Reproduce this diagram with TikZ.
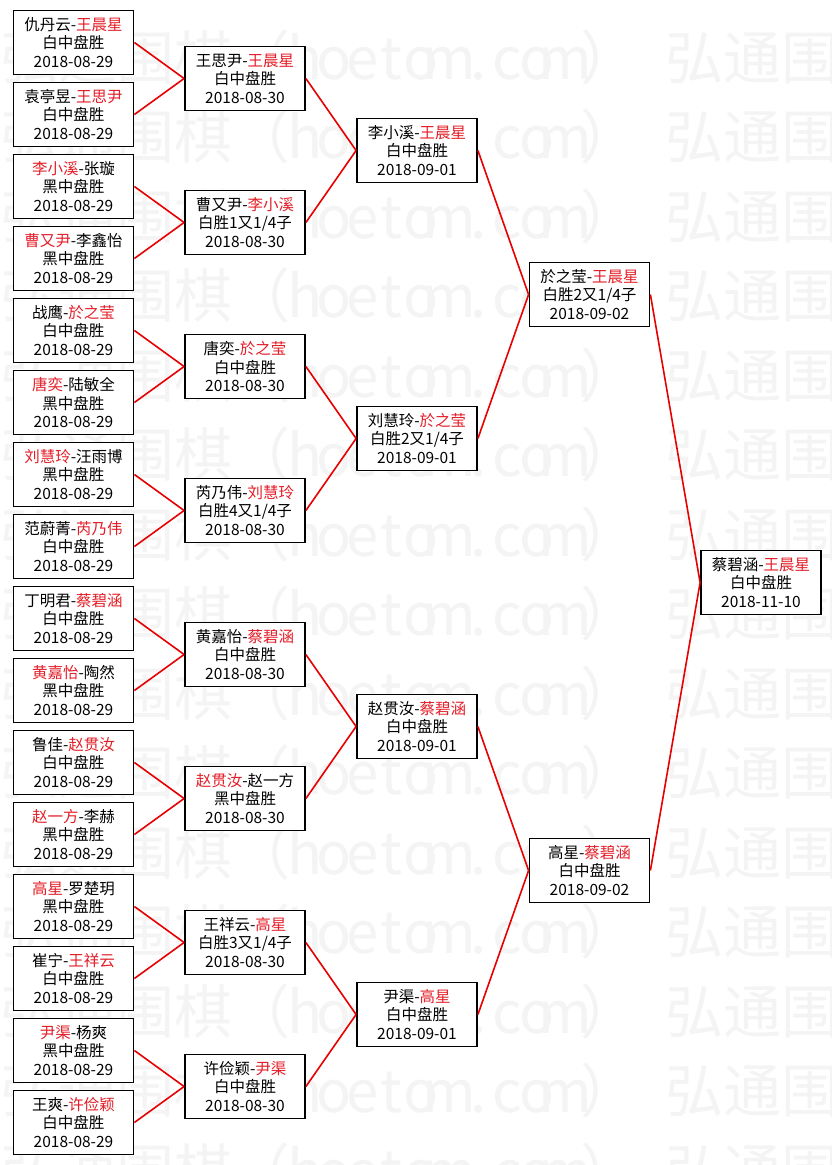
\documentclass[tikz,border=0pt]{standalone}
\usepackage{fontspec}
\newfontfamily\cjk{Noto Sans CJK SC}
\definecolor{wred}{RGB}{228,30,40}
\definecolor{lred}{RGB}{232,0,0}
\definecolor{wmark}{RGB}{244,244,244}
\newcommand\wnr[1]{\textcolor{wred}{#1}}
\newcommand\wmc[1]{\makebox[29pt]{#1}}
\tikzset{
  game/.style={draw=black, line width=1.8pt, fill=white, minimum width=120pt,
    minimum height=64pt, inner sep=0pt, align=center,
    font=\cjk\fontsize{15.5}{18.5}\selectfont},
  link/.style={draw=lred, line width=1.6pt},
  wm/.style={anchor=west, inner sep=0pt, text=wmark, font=\cjk\fontsize{58}{60}\selectfont}
}
\begin{document}
\begin{tikzpicture}[x=1pt,y=-1pt]
\useasboundingbox (0,0) rectangle (832,1165);
\fill[white] (0,0) rectangle (832,1165);
% watermark
\begin{scope}
\clip (0,0) rectangle (832,1165);
\foreach \k in {0,...,14}{
  \node[wm] (wa\k) at (0,57+79.5*\k) {弘通围棋（\wmc{h}\wmc{o}\wmc{e}\wmc{t}\wmc{o}\wmc{m}\wmc{.}\wmc{c}\wmc{o}\wmc{m}）};
  \node[wm] (wb\k) at (665,57+79.5*\k) {弘通围棋};
}
\end{scope}
% round 1
\node[game] (a0)  at (73.5,42.5)   {仇丹云-\wnr{王晨星}\\白中盘胜\\2018-08-29};
\node[game] (a1)  at (73.5,114.5)  {袁亭昱-\wnr{王思尹}\\白中盘胜\\2018-08-29};
\node[game] (a2)  at (73.5,186.5)  {\wnr{李小溪}-张璇\\黑中盘胜\\2018-08-29};
\node[game] (a3)  at (73.5,258.5)  {\wnr{曹又尹}-李鑫怡\\黑中盘胜\\2018-08-29};
\node[game] (a4)  at (73.5,330.5)  {战鹰-\wnr{於之莹}\\白中盘胜\\2018-08-29};
\node[game] (a5)  at (73.5,402.5)  {\wnr{唐奕}-陆敏全\\黑中盘胜\\2018-08-29};
\node[game] (a6)  at (73.5,474.5)  {\wnr{刘慧玲}-汪雨博\\黑中盘胜\\2018-08-29};
\node[game] (a7)  at (73.5,546.5)  {范蔚菁-\wnr{芮乃伟}\\白中盘胜\\2018-08-29};
\node[game] (a8)  at (73.5,618.5)  {丁明君-\wnr{蔡碧涵}\\白中盘胜\\2018-08-29};
\node[game] (a9)  at (73.5,690.5)  {\wnr{黄嘉怡}-陶然\\黑中盘胜\\2018-08-29};
\node[game] (a10) at (73.5,762.5)  {鲁佳-\wnr{赵贯汝}\\白中盘胜\\2018-08-29};
\node[game] (a11) at (73.5,834.5)  {\wnr{赵一方}-李赫\\黑中盘胜\\2018-08-29};
\node[game] (a12) at (73.5,906.5)  {\wnr{高星}-罗楚玥\\黑中盘胜\\2018-08-29};
\node[game] (a13) at (73.5,978.5)  {崔宁-\wnr{王祥云}\\白中盘胜\\2018-08-29};
\node[game] (a14) at (73.5,1050.5) {\wnr{尹渠}-杨爽\\黑中盘胜\\2018-08-29};
\node[game] (a15) at (73.5,1122.5) {王爽-\wnr{许俭颖}\\白中盘胜\\2018-08-29};
% round 2
\node[game] (b0) at (245,78.5)   {王思尹-\wnr{王晨星}\\白中盘胜\\2018-08-30};
\node[game] (b1) at (245,222.5)  {曹又尹-\wnr{李小溪}\\白胜1又1/4子\\2018-08-30};
\node[game] (b2) at (245,366.5)  {唐奕-\wnr{於之莹}\\白中盘胜\\2018-08-30};
\node[game] (b3) at (245,510.5)  {芮乃伟-\wnr{刘慧玲}\\白胜4又1/4子\\2018-08-30};
\node[game] (b4) at (245,654.5)  {黄嘉怡-\wnr{蔡碧涵}\\白中盘胜\\2018-08-30};
\node[game] (b5) at (245,798.5)  {\wnr{赵贯汝}-赵一方\\黑中盘胜\\2018-08-30};
\node[game] (b6) at (245,942.5)  {王祥云-\wnr{高星}\\白胜3又1/4子\\2018-08-30};
\node[game] (b7) at (245,1086.5) {许俭颖-\wnr{尹渠}\\白中盘胜\\2018-08-30};
% round 3
\node[game] (c0) at (417,150.5) {李小溪-\wnr{王晨星}\\白中盘胜\\2018-09-01};
\node[game] (c1) at (417,438.5) {刘慧玲-\wnr{於之莹}\\白胜2又1/4子\\2018-09-01};
\node[game] (c2) at (417,726.5) {赵贯汝-\wnr{蔡碧涵}\\白中盘胜\\2018-09-01};
\node[game] (c3) at (417,1014.5) {尹渠-\wnr{高星}\\白中盘胜\\2018-09-01};
% round 4
\node[game] (d0) at (589.5,294.5) {於之莹-\wnr{王晨星}\\白胜2又1/4子\\2018-09-02};
\node[game] (d1) at (589.5,870.5) {高星-\wnr{蔡碧涵}\\白中盘胜\\2018-09-02};
% final
\node[game] (e0) at (761,582.5) {蔡碧涵-\wnr{王晨星}\\白中盘胜\\2018-11-10};
% connectors
\foreach \i/\p in {0/0,1/0,2/1,3/1,4/2,5/2,6/3,7/3,8/4,9/4,10/5,11/5,12/6,13/6,14/7,15/7}{
  \draw[link] (a\i.east) -- (b\p.west);
}
\foreach \i/\p in {0/0,1/0,2/1,3/1,4/2,5/2,6/3,7/3}{
  \draw[link] (b\i.east) -- (c\p.west);
}
\foreach \i/\p in {0/0,1/0,2/1,3/1}{
  \draw[link] (c\i.east) -- (d\p.west);
}
\draw[link] (d0.east) -- (e0.west);
\draw[link] (d1.east) -- (e0.west);
\end{tikzpicture}
\end{document}
